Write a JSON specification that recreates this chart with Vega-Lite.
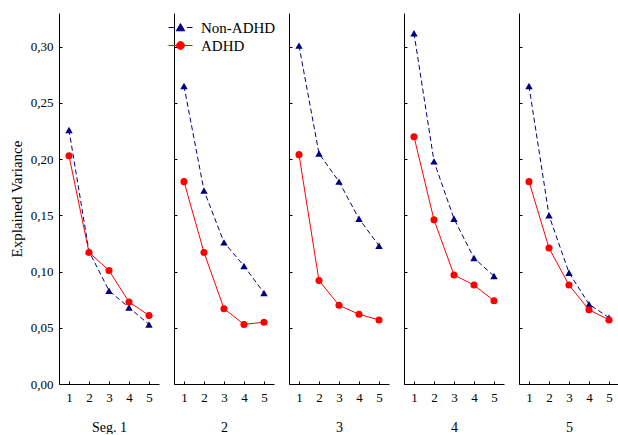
{
  "$schema": "https://vega.github.io/schema/vega-lite/v6.json",
  "padding": {"left": 9, "top": 13, "right": 0, "bottom": 0},
  "spacing": 15,
  "bounds": "flush",
  "data": {"values": [
    {"seg": 1, "s": "Non-ADHD", "x": 1, "v": 0.226},
    {"seg": 1, "s": "Non-ADHD", "x": 2, "v": 0.118},
    {"seg": 1, "s": "Non-ADHD", "x": 3, "v": 0.083},
    {"seg": 1, "s": "Non-ADHD", "x": 4, "v": 0.068},
    {"seg": 1, "s": "Non-ADHD", "x": 5, "v": 0.053},
    {"seg": 1, "s": "ADHD", "x": 1, "v": 0.203},
    {"seg": 1, "s": "ADHD", "x": 2, "v": 0.117},
    {"seg": 1, "s": "ADHD", "x": 3, "v": 0.101},
    {"seg": 1, "s": "ADHD", "x": 4, "v": 0.073},
    {"seg": 1, "s": "ADHD", "x": 5, "v": 0.061},
    {"seg": 2, "s": "Non-ADHD", "x": 1, "v": 0.265},
    {"seg": 2, "s": "Non-ADHD", "x": 2, "v": 0.172},
    {"seg": 2, "s": "Non-ADHD", "x": 3, "v": 0.126},
    {"seg": 2, "s": "Non-ADHD", "x": 4, "v": 0.105},
    {"seg": 2, "s": "Non-ADHD", "x": 5, "v": 0.081},
    {"seg": 2, "s": "ADHD", "x": 1, "v": 0.180},
    {"seg": 2, "s": "ADHD", "x": 2, "v": 0.117},
    {"seg": 2, "s": "ADHD", "x": 3, "v": 0.067},
    {"seg": 2, "s": "ADHD", "x": 4, "v": 0.053},
    {"seg": 2, "s": "ADHD", "x": 5, "v": 0.055},
    {"seg": 3, "s": "Non-ADHD", "x": 1, "v": 0.301},
    {"seg": 3, "s": "Non-ADHD", "x": 2, "v": 0.205},
    {"seg": 3, "s": "Non-ADHD", "x": 3, "v": 0.180},
    {"seg": 3, "s": "Non-ADHD", "x": 4, "v": 0.147},
    {"seg": 3, "s": "Non-ADHD", "x": 5, "v": 0.123},
    {"seg": 3, "s": "ADHD", "x": 1, "v": 0.204},
    {"seg": 3, "s": "ADHD", "x": 2, "v": 0.092},
    {"seg": 3, "s": "ADHD", "x": 3, "v": 0.070},
    {"seg": 3, "s": "ADHD", "x": 4, "v": 0.062},
    {"seg": 3, "s": "ADHD", "x": 5, "v": 0.057},
    {"seg": 4, "s": "Non-ADHD", "x": 1, "v": 0.312},
    {"seg": 4, "s": "Non-ADHD", "x": 2, "v": 0.198},
    {"seg": 4, "s": "Non-ADHD", "x": 3, "v": 0.147},
    {"seg": 4, "s": "Non-ADHD", "x": 4, "v": 0.112},
    {"seg": 4, "s": "Non-ADHD", "x": 5, "v": 0.096},
    {"seg": 4, "s": "ADHD", "x": 1, "v": 0.220},
    {"seg": 4, "s": "ADHD", "x": 2, "v": 0.146},
    {"seg": 4, "s": "ADHD", "x": 3, "v": 0.097},
    {"seg": 4, "s": "ADHD", "x": 4, "v": 0.088},
    {"seg": 4, "s": "ADHD", "x": 5, "v": 0.074},
    {"seg": 5, "s": "Non-ADHD", "x": 1, "v": 0.265},
    {"seg": 5, "s": "Non-ADHD", "x": 2, "v": 0.150},
    {"seg": 5, "s": "Non-ADHD", "x": 3, "v": 0.099},
    {"seg": 5, "s": "Non-ADHD", "x": 4, "v": 0.071},
    {"seg": 5, "s": "Non-ADHD", "x": 5, "v": 0.059},
    {"seg": 5, "s": "ADHD", "x": 1, "v": 0.180},
    {"seg": 5, "s": "ADHD", "x": 2, "v": 0.121},
    {"seg": 5, "s": "ADHD", "x": 3, "v": 0.088},
    {"seg": 5, "s": "ADHD", "x": 4, "v": 0.066},
    {"seg": 5, "s": "ADHD", "x": 5, "v": 0.057}
  ]},
  "hconcat": [
    {
      "width": 100, "height": 371,
      "transform": [{"filter": "datum.seg == 1"}],
      "encoding": {
        "x": {"field": "x", "type": "quantitative", "scale": {"domain": [0.5, 5.5], "nice": false, "zero": false}, "axis": {"values": [1, 2, 3, 4, 5], "title": "Seg. 1"}},
        "y": {"field": "v", "type": "quantitative", "scale": {"domain": [0, 0.33], "nice": false}, "axis": {"values": [0, 0.05, 0.1, 0.15, 0.2, 0.25, 0.3], "labelExpr": "replace(format(datum.value, '.2f'), '.', ',')", "title": "Explained Variance", "titleFontSize": 15, "labelPadding": 9, "titlePadding": 6}},
        "color": {"field": "s", "type": "nominal", "scale": {"domain": ["Non-ADHD", "ADHD"], "range": ["#000080", "#ff0000"]},
          "legend": {"title": null, "orient": "none", "legendX": 114, "legendY": 7, "padding": 0, "symbolSize": 144, "labelOffset": 13, "labelFontSize": 15, "rowPadding": 2, "labelColor": "#000",
            "encode": {"symbols": {"update": {
              "shape": {"signal": "datum.value === 'ADHD' ? 'M-2,0L2,0M0.65,0A0.65,0.65,0,1,1,-0.65,0A0.65,0.65,0,1,1,0.65,0Z' : 'M-2,0L-1.1,0M1.1,0L2,0M0,-0.65L0.7,0.55L-0.7,0.55Z'"},
              "fill": {"signal": "datum.value === 'ADHD' ? '#ff0000' : '#000080'"},
              "stroke": {"signal": "datum.value === 'ADHD' ? '#ff0000' : '#000080'"},
              "strokeWidth": {"value": 1},
              "opacity": {"value": 1},
              "fillOpacity": {"value": 1},
              "size": {"value": 144}
            }}}}}
      },
      "layer": [
        {"transform": [{"filter": "datum.s == 'Non-ADHD'"}], "mark": {"type": "line", "strokeWidth": 1, "strokeDash": [5, 3]}},
        {"transform": [{"filter": "datum.s == 'Non-ADHD'"}], "mark": {"type": "point", "shape": "triangle-up", "filled": true, "opacity": 1, "size": 55}},
        {"transform": [{"filter": "datum.s == 'ADHD'"}], "mark": {"type": "line", "strokeWidth": 1}},
        {"transform": [{"filter": "datum.s == 'ADHD'"}], "mark": {"type": "point", "shape": "circle", "filled": true, "opacity": 1, "size": 50}}
      ]
    },
    {
      "width": 100, "height": 371,
      "transform": [{"filter": "datum.seg == 2"}],
      "encoding": {
        "x": {"field": "x", "type": "quantitative", "scale": {"domain": [0.5, 5.5], "nice": false, "zero": false}, "axis": {"values": [1, 2, 3, 4, 5], "title": "2"}},
        "y": {"field": "v", "type": "quantitative", "scale": {"domain": [0, 0.33], "nice": false}, "axis": {"values": [0, 0.05, 0.1, 0.15, 0.2, 0.25, 0.3], "labels": false, "title": null}},
        "color": {"field": "s", "type": "nominal", "scale": {"domain": ["Non-ADHD", "ADHD"], "range": ["#000080", "#ff0000"]}}
      },
      "layer": [
        {"transform": [{"filter": "datum.s == 'Non-ADHD'"}], "mark": {"type": "line", "strokeWidth": 1, "strokeDash": [5, 3]}},
        {"transform": [{"filter": "datum.s == 'Non-ADHD'"}], "mark": {"type": "point", "shape": "triangle-up", "filled": true, "opacity": 1, "size": 55}},
        {"transform": [{"filter": "datum.s == 'ADHD'"}], "mark": {"type": "line", "strokeWidth": 1}},
        {"transform": [{"filter": "datum.s == 'ADHD'"}], "mark": {"type": "point", "shape": "circle", "filled": true, "opacity": 1, "size": 50}}
      ]
    },
    {
      "width": 100, "height": 371,
      "transform": [{"filter": "datum.seg == 3"}],
      "encoding": {
        "x": {"field": "x", "type": "quantitative", "scale": {"domain": [0.5, 5.5], "nice": false, "zero": false}, "axis": {"values": [1, 2, 3, 4, 5], "title": "3"}},
        "y": {"field": "v", "type": "quantitative", "scale": {"domain": [0, 0.33], "nice": false}, "axis": {"values": [0, 0.05, 0.1, 0.15, 0.2, 0.25, 0.3], "labels": false, "title": null}},
        "color": {"field": "s", "type": "nominal", "scale": {"domain": ["Non-ADHD", "ADHD"], "range": ["#000080", "#ff0000"]}}
      },
      "layer": [
        {"transform": [{"filter": "datum.s == 'Non-ADHD'"}], "mark": {"type": "line", "strokeWidth": 1, "strokeDash": [5, 3]}},
        {"transform": [{"filter": "datum.s == 'Non-ADHD'"}], "mark": {"type": "point", "shape": "triangle-up", "filled": true, "opacity": 1, "size": 55}},
        {"transform": [{"filter": "datum.s == 'ADHD'"}], "mark": {"type": "line", "strokeWidth": 1}},
        {"transform": [{"filter": "datum.s == 'ADHD'"}], "mark": {"type": "point", "shape": "circle", "filled": true, "opacity": 1, "size": 50}}
      ]
    },
    {
      "width": 100, "height": 371,
      "transform": [{"filter": "datum.seg == 4"}],
      "encoding": {
        "x": {"field": "x", "type": "quantitative", "scale": {"domain": [0.5, 5.5], "nice": false, "zero": false}, "axis": {"values": [1, 2, 3, 4, 5], "title": "4"}},
        "y": {"field": "v", "type": "quantitative", "scale": {"domain": [0, 0.33], "nice": false}, "axis": {"values": [0, 0.05, 0.1, 0.15, 0.2, 0.25, 0.3], "labels": false, "title": null}},
        "color": {"field": "s", "type": "nominal", "scale": {"domain": ["Non-ADHD", "ADHD"], "range": ["#000080", "#ff0000"]}}
      },
      "layer": [
        {"transform": [{"filter": "datum.s == 'Non-ADHD'"}], "mark": {"type": "line", "strokeWidth": 1, "strokeDash": [5, 3]}},
        {"transform": [{"filter": "datum.s == 'Non-ADHD'"}], "mark": {"type": "point", "shape": "triangle-up", "filled": true, "opacity": 1, "size": 55}},
        {"transform": [{"filter": "datum.s == 'ADHD'"}], "mark": {"type": "line", "strokeWidth": 1}},
        {"transform": [{"filter": "datum.s == 'ADHD'"}], "mark": {"type": "point", "shape": "circle", "filled": true, "opacity": 1, "size": 50}}
      ]
    },
    {
      "width": 100, "height": 371,
      "transform": [{"filter": "datum.seg == 5"}],
      "encoding": {
        "x": {"field": "x", "type": "quantitative", "scale": {"domain": [0.5, 5.5], "nice": false, "zero": false}, "axis": {"values": [1, 2, 3, 4, 5], "title": "5"}},
        "y": {"field": "v", "type": "quantitative", "scale": {"domain": [0, 0.33], "nice": false}, "axis": {"values": [0, 0.05, 0.1, 0.15, 0.2, 0.25, 0.3], "labels": false, "title": null}},
        "color": {"field": "s", "type": "nominal", "scale": {"domain": ["Non-ADHD", "ADHD"], "range": ["#000080", "#ff0000"]}}
      },
      "layer": [
        {"transform": [{"filter": "datum.s == 'Non-ADHD'"}], "mark": {"type": "line", "strokeWidth": 1, "strokeDash": [5, 3]}},
        {"transform": [{"filter": "datum.s == 'Non-ADHD'"}], "mark": {"type": "point", "shape": "triangle-up", "filled": true, "opacity": 1, "size": 55}},
        {"transform": [{"filter": "datum.s == 'ADHD'"}], "mark": {"type": "line", "strokeWidth": 1}},
        {"transform": [{"filter": "datum.s == 'ADHD'"}], "mark": {"type": "point", "shape": "circle", "filled": true, "opacity": 1, "size": 50}}
      ]
    }
  ],
  "config": {
    "font": "'Liberation Serif', 'DejaVu Serif', serif",
    "view": {"stroke": null},
    "axis": {"grid": false, "domainColor": "#000", "tickColor": "#000", "tickSize": -3, "labelColor": "#000", "titleColor": "#000", "labelFontSize": 13, "titleFontSize": 13, "titleFontWeight": "normal", "labelFont": "'Liberation Serif', 'DejaVu Serif', serif", "titleFont": "'Liberation Serif', 'DejaVu Serif', serif"},
    "axisX": {"labelPadding": 10, "titlePadding": 16, "titleFontSize": 14, "labelAngle": 0},
    "legend": {"labelFont": "'Liberation Serif', 'DejaVu Serif', serif"}
  }
}
